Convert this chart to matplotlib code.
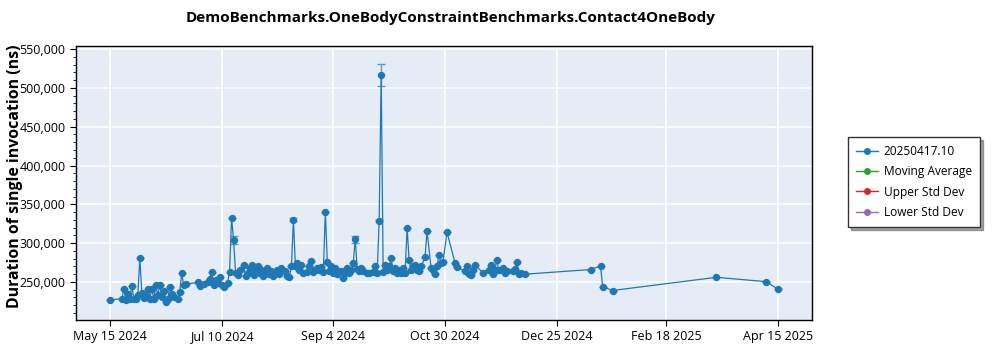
import datetime as dt

import matplotlib

matplotlib.use("Agg")
import matplotlib.pyplot as plt
import matplotlib.dates as mdates
from matplotlib.lines import Line2D
from matplotlib.ticker import FuncFormatter, MultipleLocator
import numpy as np
import pandas as pd

TITLE = "DemoBenchmarks.OneBodyConstraintBenchmarks.Contact4OneBody"
SERIES_NAME = "20250417.10"

run_dates = [
    "2024-05-15", "2024-05-21", "2024-05-22", "2024-05-23", "2024-05-24", "2024-05-25",
    "2024-05-26", "2024-05-27", "2024-05-28", "2024-05-29", "2024-05-30", "2024-05-31",
    "2024-06-01", "2024-06-02", "2024-06-03", "2024-06-04", "2024-06-05", "2024-06-06",
    "2024-06-07", "2024-06-08", "2024-06-09", "2024-06-10", "2024-06-11", "2024-06-12",
    "2024-06-13", "2024-06-14", "2024-06-15", "2024-06-16", "2024-06-18", "2024-06-19",
    "2024-06-20", "2024-06-21", "2024-06-22", "2024-06-28", "2024-06-29", "2024-07-01",
    "2024-07-03", "2024-07-04", "2024-07-05", "2024-07-06", "2024-07-07", "2024-07-08",
    "2024-07-09", "2024-07-10", "2024-07-11", "2024-07-13", "2024-07-14", "2024-07-15",
    "2024-07-16", "2024-07-17", "2024-07-18", "2024-07-19", "2024-07-21", "2024-07-22",
    "2024-07-23", "2024-07-24", "2024-07-25", "2024-07-26", "2024-07-27", "2024-07-28",
    "2024-07-29", "2024-07-30", "2024-07-31", "2024-08-01", "2024-08-02", "2024-08-03",
    "2024-08-04", "2024-08-05", "2024-08-06", "2024-08-07", "2024-08-08", "2024-08-09",
    "2024-08-11", "2024-08-12", "2024-08-13", "2024-08-14", "2024-08-15", "2024-08-16",
    "2024-08-17", "2024-08-18", "2024-08-19", "2024-08-20", "2024-08-22", "2024-08-23",
    "2024-08-24", "2024-08-25", "2024-08-26", "2024-08-27", "2024-08-28", "2024-08-29",
    "2024-08-30", "2024-08-31", "2024-09-01", "2024-09-02", "2024-09-03", "2024-09-04",
    "2024-09-05", "2024-09-06", "2024-09-08", "2024-09-09", "2024-09-10", "2024-09-11",
    "2024-09-12", "2024-09-13", "2024-09-14", "2024-09-15", "2024-09-16", "2024-09-17",
    "2024-09-18", "2024-09-19", "2024-09-21", "2024-09-22", "2024-09-24", "2024-09-25",
    "2024-09-26", "2024-09-27", "2024-09-28", "2024-09-29", "2024-09-30", "2024-10-01",
    "2024-10-02", "2024-10-03", "2024-10-04", "2024-10-05", "2024-10-06", "2024-10-07",
    "2024-10-08", "2024-10-09", "2024-10-10", "2024-10-11", "2024-10-12", "2024-10-13",
    "2024-10-14", "2024-10-15", "2024-10-16", "2024-10-17", "2024-10-18", "2024-10-20",
    "2024-10-21", "2024-10-23", "2024-10-24", "2024-10-25", "2024-10-26", "2024-10-27",
    "2024-10-28", "2024-10-29", "2024-10-31", "2024-11-04", "2024-11-05", "2024-11-09",
    "2024-11-10", "2024-11-11", "2024-11-12", "2024-11-13", "2024-11-14", "2024-11-18",
    "2024-11-21", "2024-11-22", "2024-11-23", "2024-11-24", "2024-11-25", "2024-11-26",
    "2024-11-28", "2024-11-29", "2024-11-30", "2024-12-03", "2024-12-04", "2024-12-05",
    "2024-12-06", "2024-12-07", "2024-12-09", "2025-01-11", "2025-01-16", "2025-01-17",
    "2025-01-22", "2025-03-15", "2025-04-09", "2025-04-15",
]

durations_ns = [
    227000, 228500, 240500, 227000, 234500, 228000,
    245000, 228000, 228000, 233000, 280500, 236000,
    229000, 233000, 240600, 228000, 240600, 228000,
    246000, 233000, 246000, 230000, 239000, 224600,
    228000, 244000, 234500, 231000, 228000, 236500,
    261000, 246000, 247000, 249600, 245000, 248000,
    250400, 254000, 263000, 246000, 252000, 249000,
    256800, 246000, 244000, 249000, 263000, 333000,
    304000, 262000, 259000, 266000, 272000, 258000,
    262000, 268000, 272000, 259000, 265000, 270000,
    261000, 266000, 258000, 263000, 268000, 260000,
    264000, 258000, 262000, 266000, 260000, 268000,
    264000, 258000, 257000, 270000, 330000, 271000,
    274000, 266000, 272000, 262000, 263000, 270000,
    277000, 263000, 266000, 268000, 266000, 269000,
    263000, 340600, 276000, 264000, 270000, 262000,
    268000, 260000, 264000, 255500, 262000, 268000,
    261000, 266000, 274000, 305000, 267000, 264000,
    268000, 264000, 262000, 262000, 263000, 270000,
    262000, 329000, 516500, 263000, 272000, 266000,
    270000, 280500, 264000, 268000, 262000, 265000,
    262000, 268000, 262000, 320000, 278000, 265000,
    270000, 272000, 266000, 264000, 270000, 282000,
    315700, 268000, 265000, 260000, 270000, 285000,
    274000, 276000, 314000, 275000, 269000, 264000,
    271000, 260000, 259000, 266000, 272000, 262000,
    266000, 272000, 260000, 265000, 278000, 265000,
    268000, 261000, 264000, 264000, 267000, 276000,
    260000, 262000, 260000, 266000, 270600, 244000,
    239000, 256000, 250400, 240600,
]

# runs that reported a spread across invocations
spread_dates = ["2024-07-16", "2024-08-15", "2024-09-15", "2024-09-27", "2024-09-28"]
spread_ns = [5000, 2000, 4500, 1000, 14000]

tick_dates = ["2024-05-15", "2024-07-10", "2024-09-04", "2024-10-30",
              "2024-12-25", "2025-02-18", "2025-04-15"]

plt.rcParams["font.family"] = ["Open Sans", "DejaVu Sans"]

dates = pd.to_datetime(run_dates)
values = np.array(durations_ns, dtype=float)
yerr = np.zeros_like(values)
for d, s in zip(pd.to_datetime(spread_dates), spread_ns):
    yerr[dates == d] = s

fig = plt.figure(figsize=(10, 3.5), dpi=100)
ax = fig.add_axes([0.076, 0.0857, 0.736, 0.783])
ax.set_facecolor("#E5ECF6")

ax.errorbar(dates, values, yerr=yerr, fmt="-o", color="#1f77b4", lw=0.9,
            markersize=4.3, ecolor="#5b9bd0", elinewidth=1.0, capsize=3,
            capthick=1.0, zorder=3)

ax.set_xlim(dt.datetime(2024, 4, 28), dt.datetime(2025, 5, 2))
ax.set_ylim(201000, 554000)

ax.set_xticks(pd.to_datetime(tick_dates))
ax.xaxis.set_major_formatter(FuncFormatter(
    lambda x, pos: (lambda d: f"{d:%b} {d.day} {d.year}")(mdates.num2date(x))))
ax.yaxis.set_major_locator(MultipleLocator(50000))
ax.yaxis.set_minor_locator(MultipleLocator(10000))
ax.yaxis.set_major_formatter(FuncFormatter(lambda y, pos: f"{y:,.0f}"))

ax.grid(True, which="major", color="white", lw=1.2, zorder=0)
ax.set_axisbelow(True)
ax.tick_params(axis="both", which="major", labelsize=9, length=4, color="black")
ax.tick_params(axis="y", which="minor", length=2, color="black")
for side in ax.spines.values():
    side.set_color("black")
    side.set_linewidth(1.0)

fig.text(0.015, 0.497, "Duration of single invocation (ns)", rotation=90,
         fontsize=11.4, fontweight="bold", ha="center", va="center")
fig.text(0.451, 0.948, TITLE, fontsize=11, fontweight="bold", ha="center", va="center")

handles = [
    Line2D([], [], color="#1f77b4", marker="o", markersize=4, lw=1, label=SERIES_NAME),
    Line2D([], [], color="#2ca02c", marker="o", markersize=4, lw=1, label="Moving Average"),
    Line2D([], [], color="#d62728", marker="o", markersize=4, lw=1, label="Upper Std Dev"),
    Line2D([], [], color="#9467bd", marker="o", markersize=4, lw=1, label="Lower Std Dev"),
]
leg = fig.legend(handles=handles, loc="upper left", bbox_to_anchor=(0.848, 0.609),
                 fontsize=8.6, fancybox=False, shadow=True, framealpha=1,
                 edgecolor="#333333", handlelength=1.8, handletextpad=0.5,
                 borderpad=0.7, labelspacing=0.6, borderaxespad=0)
leg.get_frame().set_linewidth(1.0)

fig.savefig("out.png", dpi=100)
